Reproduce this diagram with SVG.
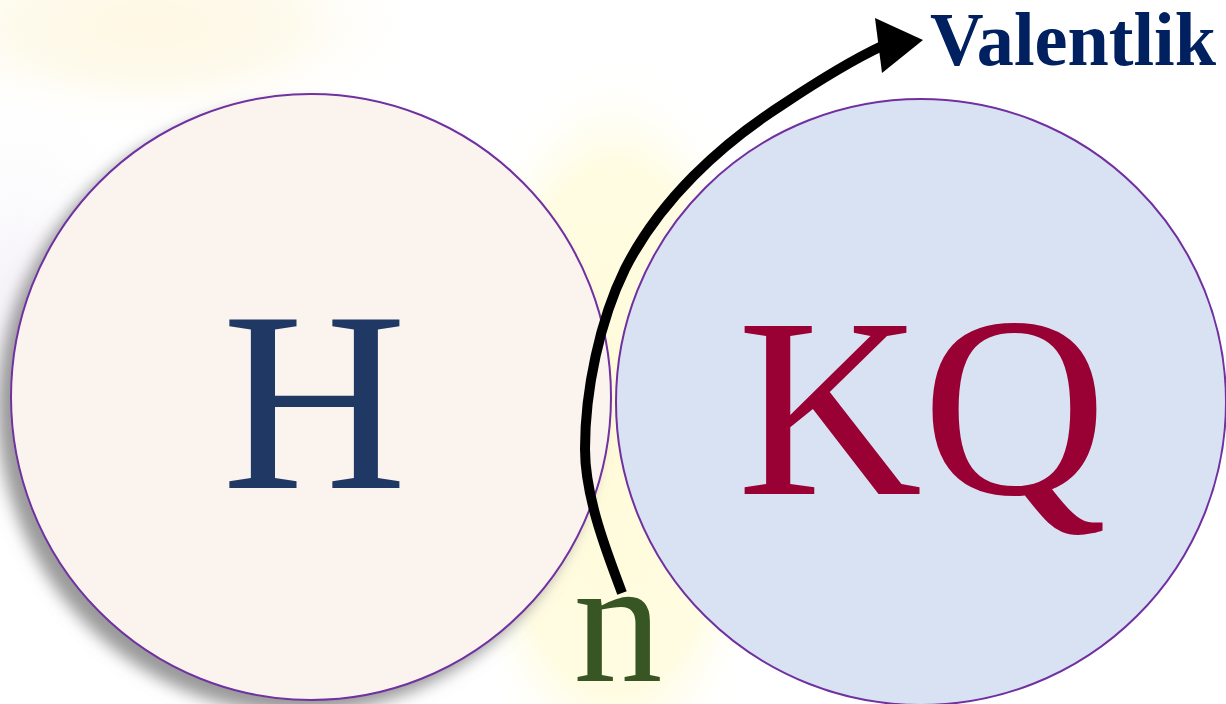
<svg xmlns="http://www.w3.org/2000/svg" width="1226" height="704" viewBox="0 0 1226 704">
<defs>
<radialGradient id="gTL" cx="0.5" cy="0.5" r="0.5"><stop offset="0" stop-color="#FEF8E4"/><stop offset="0.5" stop-color="#FEFAEC"/><stop offset="1" stop-color="#FFFFFF" stop-opacity="0"/></radialGradient>
<radialGradient id="gLav" cx="0.5" cy="0.5" r="0.5"><stop offset="0" stop-color="#F2EEF6"/><stop offset="1" stop-color="#FFFFFF" stop-opacity="0"/></radialGradient>
<radialGradient id="gMid" cx="0.5" cy="0.5" r="0.5"><stop offset="0" stop-color="#FFFBD9"/><stop offset="0.7" stop-color="#FFFCE2"/><stop offset="1" stop-color="#FFFFFF" stop-opacity="0"/></radialGradient>
<filter id="shadow" x="-10%" y="-10%" width="120%" height="120%">
<feDropShadow dx="-12" dy="12" stdDeviation="8" flood-color="#808080" flood-opacity="0.8"/>
</filter>
<style>
.circ{stroke:#7030A0;stroke-width:2}
.big{font-family:"Liberation Serif","Times New Roman",serif;font-size:256px;text-anchor:middle}
</style>
</defs>
<rect width="1226" height="704" fill="#FFFFFF"/>
<ellipse cx="150" cy="25" rx="280" ry="110" fill="url(#gTL)"/>
<ellipse cx="20" cy="320" rx="140" ry="260" fill="url(#gLav)"/>
<ellipse cx="615" cy="430" rx="170" ry="380" fill="url(#gMid)"/>
<g id="node-H">
<ellipse class="circ" cx="311" cy="397" rx="300" ry="303" fill="#FBF3EE" filter="url(#shadow)"/>
<text class="big" x="314.5" y="488" fill="#1F3864">H</text>
</g>
<g id="node-KQ">
<ellipse class="circ" cx="921" cy="402" rx="305" ry="303" fill="#D9E2F3"/>
<text class="big" x="922" y="494" fill="#990033">KQ</text>
</g>
<g id="connectors">
<path d="M622,593 C610,560 585,500 585,449 C585,390 600,320 625,269 C660,200 720,145 782,105 C815,83 848,62 882,46" fill="none" stroke="#000000" stroke-width="10"/>
<polygon points="875,18 923,40 882,73" fill="#000000"/>
</g>
<g id="label-n">
<text x="618" y="681" fill="#375623" font-family="Liberation Serif, Times New Roman, serif" font-size="178" text-anchor="middle">n</text>
</g>
<g id="label-valentlik">
<text x="930" y="65" fill="#002060" font-family="Liberation Serif, Times New Roman, serif" font-size="77" font-weight="bold" textLength="286" lengthAdjust="spacingAndGlyphs">Valentlik</text>
</g>
</svg>
